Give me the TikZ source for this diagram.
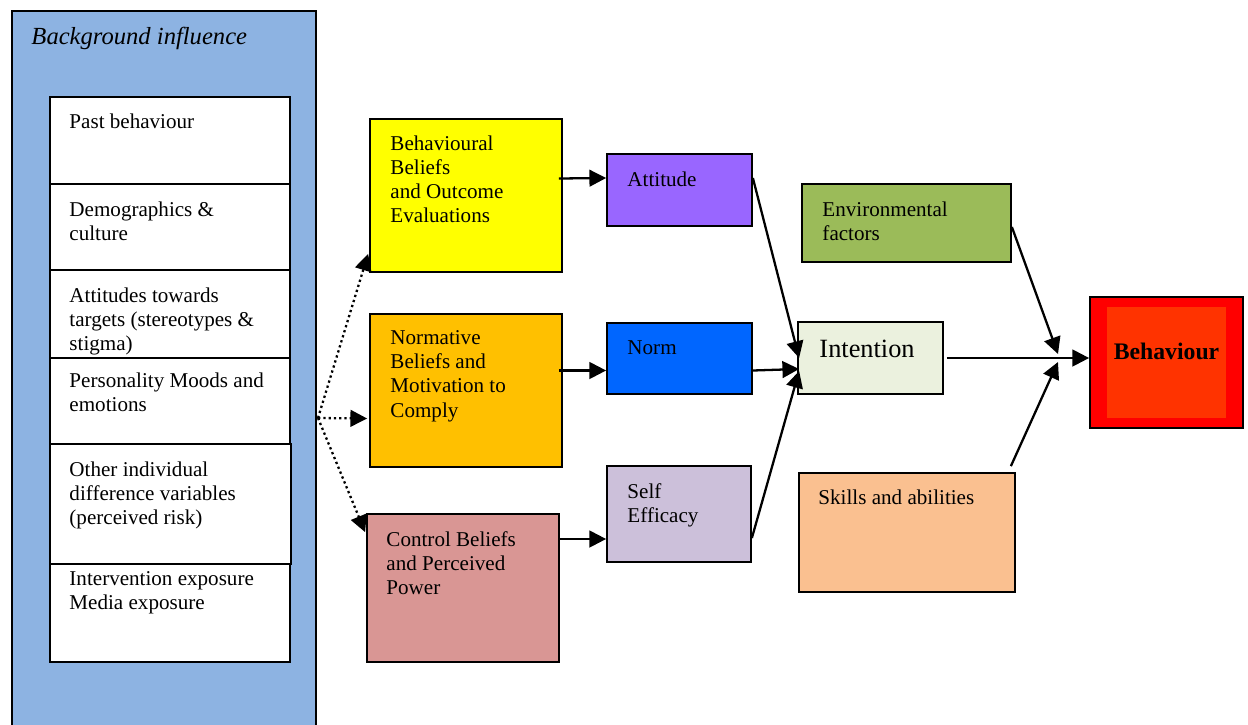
\documentclass[tikz,border=0pt]{standalone}
\usepackage{fontspec}
\setmainfont{Liberation Serif}
\usepackage{tikz}
\usetikzlibrary{fit}
\usetikzlibrary{arrows.meta}
\usepackage{xcolor}

\definecolor{bgblue}{HTML}{8DB3E2}
\definecolor{beliefyellow}{HTML}{FFFF00}
\definecolor{normorange}{HTML}{FFC000}
\definecolor{controlrose}{HTML}{D99694}
\definecolor{attpurple}{HTML}{9966FF}
\definecolor{normblue}{HTML}{0066FF}
\definecolor{selflilac}{HTML}{CCC0DA}
\definecolor{envgreen}{HTML}{9BBB59}
\definecolor{intgreen}{HTML}{EBF1DE}
\definecolor{skillpeach}{HTML}{FAC090}
\definecolor{behred}{HTML}{FF0000}
\definecolor{behinner}{HTML}{FF3300}

\begin{document}
\begin{tikzpicture}[x=0.02cm, y=-0.02cm,
    box/.style={draw, line width=1pt, inner sep=0pt},
    txt/.style={anchor=north west, align=left, inner sep=0pt,
      font=\fontsize{12}{13.8}\selectfont},
    arr/.style={line width=1.3pt, -{Triangle[length=9.5pt,width=9.5pt]}},
    dotarr/.style={arr, dash pattern=on 1.3pt off 1.7pt}
    ]

    \useasboundingbox (0,0) rectangle (1248,724);

    % background influences
    \node[box, fill=bgblue, fit={(12,11) (316,740)}] (bg) {};
    \node[txt, font=\fontsize{14}{16}\selectfont\itshape] (bgtitle)
      at ([shift={(20,17)}]bg.north west) {Background influence};

    \node[box, fill=white, fit={(50,97) (290,184)}] (past) {};
    \node[txt] (pasttext) at ([shift={(20,17)}]past.north west) {Past behaviour};

    \node[box, fill=white, fit={(50,184) (290,270)}] (demo) {};
    \node[txt] (demotext) at ([shift={(20,18)}]demo.north west) {Demographics \&\\culture};

    \node[box, fill=white, fit={(50,270) (290,358)}] (targ) {};
    \node[txt] (targtext) at ([shift={(20,18)}]targ.north west)
      {Attitudes towards\\targets (stereotypes \&\\stigma)};

    \node[box, fill=white, fit={(50,358) (290,444)}] (pers) {};
    \node[txt] (perstext) at ([shift={(20,15)}]pers.north west) {Personality Moods and\\emotions};

    \node[box, fill=white, fit={(50,564) (290,662)}] (expo) {};
    \node[box, fill=white, fit={(50,444) (291,564)}] (other) {};
    \node[txt] (othertext) at ([shift={(20,18)}]other.north west)
      {Other individual\\difference variables\\(perceived risk)};
    \node[txt] (expotext) at ([shift={(20,8)}]expo.north west)
      {Intervention exposure\\Media exposure};

    % beliefs
    \node[box, fill=beliefyellow, fit={(370,119) (562,272)}] (bb) {};
    \node[txt] (bbtext) at ([shift={(21,17)}]bb.north west)
      {Behavioural\\Beliefs\\and Outcome\\Evaluations};

    \node[box, fill=normorange, fit={(370,314) (562,467)}] (nb) {};
    \node[txt] (nbtext) at ([shift={(21,17)}]nb.north west)
      {Normative\\Beliefs and\\Motivation to\\Comply};

    \node[box, fill=controlrose, fit={(367,514) (559,662)}] (cb) {};
    \node[txt] (cbtext) at ([shift={(20,18)}]cb.north west)
      {Control Beliefs\\and Perceived\\Power};

    % attitude, norm, efficacy
    \node[box, fill=attpurple, fit={(607,154) (752,226)}] (att) {};
    \node[txt] (atttext) at ([shift={(21,18)}]att.north west) {Attitude};

    \node[box, fill=normblue, fit={(607,323) (752,394)}] (norm) {};
    \node[txt] (normtext) at ([shift={(21,18)}]norm.north west) {Norm};

    \node[box, fill=selflilac, fit={(607,466) (751,562)}] (se) {};
    \node[txt] (setext) at ([shift={(21,18)}]se.north west) {Self\\Efficacy};

    % intention and outer factors
    \node[box, fill=envgreen, fit={(802,184) (1011,262)}] (env) {};
    \node[txt] (envtext) at ([shift={(21,18)}]env.north west) {Environmental\\factors};

    \node[box, fill=intgreen, fit={(798,322) (943,394)}] (int) {};
    \node[txt, font=\fontsize{15}{18}\selectfont] (inttext)
      at ([shift={(22,19)}]int.north west) {Intention};

    \node[box, fill=skillpeach, fit={(799,473) (1015,592)}] (sk) {};
    \node[txt] (sktext) at ([shift={(20,17)}]sk.north west) {Skills and abilities};

    % behaviour
    \node[box, fill=behred, fit={(1090,297) (1243,428)}] (beh) {};
    \fill[behinner] (1107,307) rectangle (1226,418);
    \node[fit={(1107,307) (1226,418)}, inner sep=0pt] (behin) {};
    \node[anchor=north, inner sep=0pt, font=\fontsize{13.5}{16}\selectfont\bfseries] (behtext)
      at ([shift={(0,36)}]behin.north) {Behaviour};

    % dotted influences
    \coordinate (split) at (318,418);
    \draw[dotarr] (split) -- ([shift={(-1,-19)}]bb.south west);
    \draw[dotarr] (split) -- ([shift={(-2,28)}]nb.west);
    \draw[dotarr] (split) -- ([shift={(-1,19)}]cb.north west);

    % beliefs to attitude, norm, efficacy
    \draw[arr] ([shift={(-4,-17)}]bb.east) -- ([shift={(0,-12)}]att.west);
    \draw[arr] ([shift={(-4,-20)}]nb.east) -- ([shift={(0,12)}]norm.west);
    \draw[arr] ([shift={(0,-49)}]cb.east) -- ([shift={(0,25)}]se.west);

    % to intention
    \draw[arr] ([shift={(0,-12)}]att.east) -- ([shift={(2,0)}]int.west);
    \draw[arr] ([shift={(0,12)}]norm.east) -- ([shift={(2,11)}]int.west);
    \draw[arr] ([shift={(0,24)}]se.east) -- ([shift={(2,13)}]int.west);

    % to behaviour
    \coordinate (mrg) at (1058,358);
    \draw[arr] ([shift={(3,0)}]int.east) -- (int.east -| beh.west);
    \draw[arr] ([shift={(0,4)}]env.east) -- ([shift={(0,-4)}]mrg);
    \draw[arr] ([shift={(-5,-6)}]sk.north east) -- ([shift={(0,4)}]mrg);

\end{tikzpicture}
\end{document}
